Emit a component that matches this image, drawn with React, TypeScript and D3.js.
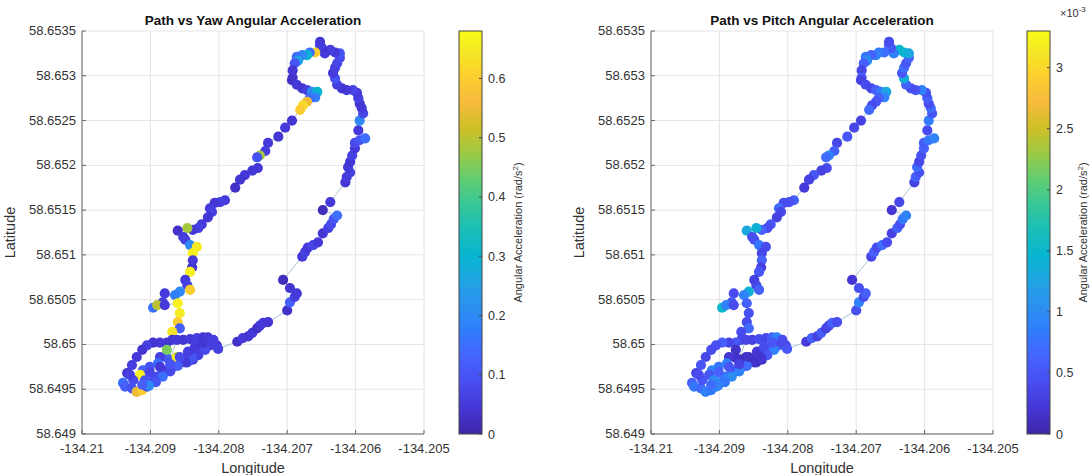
import React from 'react';
import * as d3 from 'd3';

// ---- tick values / labels ----
const lonTicks = [-134.21, -134.209, -134.208, -134.207, -134.206, -134.205];
const lonTickLabels = ['-134.21', '-134.209', '-134.208', '-134.207', '-134.206', '-134.205'];
const latTicks = [58.649, 58.6495, 58.65, 58.6505, 58.651, 58.6515, 58.652, 58.6525, 58.653, 58.6535];
const latTickLabels = ['58.649', '58.6495', '58.65', '58.6505', '58.651', '58.6515', '58.652', '58.6525', '58.653', '58.6535'];
const yawTicks = [0, 0.1, 0.2, 0.3, 0.4, 0.5, 0.6];
const yawTickLabels = ['0', '0.1', '0.2', '0.3', '0.4', '0.5', '0.6'];
const pitchTicks = [0, 0.5, 1, 1.5, 2, 2.5, 3]; // x10^-3
const pitchTickLabels = ['0', '0.5', '1', '1.5', '2', '2.5', '3'];
const yawMax = 0.68;
const pitchMax = 3.3; // x10^-3

// ---- path data ----
const lon = [
  -134.20803, -134.20801, -134.20773, -134.20765, -134.20757, -134.20751, -134.20744, -134.2074, -134.20735, -134.20728,
  -134.207, -134.20696, -134.20689, -134.20686, -134.20696, -134.20706, -134.20678, -134.20674, -134.2067, -134.20662,
  -134.20655, -134.20648, -134.2064, -134.20636, -134.20632, -134.20627, -134.20648, -134.20637, -134.20615, -134.20613,
  -134.20608, -134.20611, -134.20608, -134.20605, -134.20601, -134.20601, -134.20594, -134.20586, -134.20596, -134.20594,
  -134.20589, -134.20591, -134.20594, -134.20596, -134.20598, -134.20604, -134.20613, -134.2062, -134.20627, -134.2063,
  -134.20633, -134.2063, -134.20627, -134.20623, -134.20623, -134.2063, -134.20637, -134.20645, -134.20649, -134.20652,
  -134.20652, -134.20659, -134.20667, -134.20671, -134.20678, -134.20686, -134.20684, -134.20689, -134.20692, -134.20692,
  -134.20693, -134.20686, -134.20678, -134.20671, -134.20664, -134.20656, -134.20659, -134.20667, -134.20671, -134.20677,
  -134.20681, -134.20693, -134.20703, -134.20713, -134.20728, -134.20732, -134.2074, -134.20744, -134.20743, -134.20751,
  -134.20762, -134.20769, -134.20776, -134.20791, -134.20798, -134.20806, -134.20813, -134.2081, -134.20816, -134.20825,
  -134.2083, -134.20838, -134.20846, -134.2086, -134.20852, -134.20849, -134.20842, -134.20832, -134.20838, -134.20838,
  -134.20839, -134.20842, -134.20849, -134.20846, -134.20842, -134.20857, -134.20864, -134.20879, -134.20882, -134.20896,
  -134.2089, -134.20879, -134.2086, -134.20857, -134.2086, -134.20857, -134.20868, -134.20868, -134.20876, -134.20886,
  -134.20896, -134.20905, -134.20912, -134.2092, -134.20927, -134.20934, -134.2094, -134.20937, -134.20927, -134.2092,
  -134.20912, -134.20905, -134.20898, -134.2089, -134.20882, -134.20874, -134.20867, -134.20857, -134.20849, -134.20842,
  -134.20832, -134.20825, -134.20817, -134.20828, -134.20838, -134.20846, -134.20861, -134.20868, -134.20876, -134.20876,
  -134.20886, -134.20889, -134.20901, -134.20911, -134.20915, -134.20908, -134.20893, -134.20879, -134.20861, -134.20852,
  -134.20842, -134.20832, -134.20823, -134.20816, -134.20808, -134.20813, -134.2082, -134.2083, -134.20839, -134.20849,
  -134.2086, -134.20871, -134.20882, -134.20892, -134.20902, -134.20912, -134.20925, -134.2093, -134.20901, -134.20886,
  -134.20871, -134.20857, -134.20845, -134.20835, -134.20823, -134.2081,
];
const lat = [
  58.64999, 58.64995, 58.65003, 58.65007, 58.65009, 58.65013, 58.65018, 58.65021, 58.65024, 58.65025,
  58.65038, 58.65047, 58.65053, 58.65057, 58.65063, 58.65072, 58.65098, 58.65103, 58.65108, 58.65111,
  58.65114, 58.65124, 58.6513, 58.65134, 58.6514, 58.65144, 58.6515, 58.65159, 58.65181, 58.65187,
  58.65192, 58.65198, 58.65204, 58.65211, 58.65219, 58.65225, 58.65228, 58.6523, 58.65239, 58.6525,
  58.65258, 58.65264, 58.65269, 58.65275, 58.65281, 58.65284, 58.65284, 58.65286, 58.6529, 58.65297,
  58.65303, 58.65309, 58.65314, 58.6532, 58.65325, 58.65326, 58.65329, 58.65325, 58.65331, 58.65334,
  58.65338, 58.65326, 58.65326, 58.65323, 58.65323, 58.65321, 58.65317, 58.65314, 58.65306, 58.65298,
  58.65295, 58.6529, 58.65286, 58.65284, 58.65282, 58.65282, 58.65276, 58.65275, 58.65271, 58.65267,
  58.65262, 58.6525, 58.65242, 58.65232, 58.65225, 58.65216, 58.65211, 58.65209, 58.65197, 58.65194,
  58.65189, 58.65184, 58.65175, 58.65161, 58.65159, 58.65158, 58.65152, 58.65148, 58.65142, 58.65134,
  58.6513, 58.65128, 58.6513, 58.65127, 58.6512, 58.65117, 58.65111, 58.65109, 58.65102, 58.65094,
  58.65086, 58.65081, 58.65072, 58.65066, 58.65061, 58.65059, 58.65055, 58.65057, 58.65047, 58.65041,
  58.65044, 58.65044, 58.65046, 58.65035, 58.65025, 58.65018, 58.65014, 58.65005, 58.65002, 58.65002,
  58.65002, 58.64999, 58.64994, 58.64986, 58.64977, 58.64968, 58.64957, 58.64953, 58.64951, 58.64947,
  58.64949, 58.64953, 58.64958, 58.64964, 58.64968, 58.64971, 58.64975, 58.6498, 58.64985, 58.64988,
  58.64992, 58.64996, 58.64999, 58.64994, 58.64983, 58.6498, 58.64986, 58.64983, 58.64985, 58.64994,
  58.64986, 58.64979, 58.64975, 58.64971, 58.64966, 58.6496, 58.64963, 58.64969, 58.65005, 58.65005,
  58.65006, 58.65007, 58.65008, 58.65008, 58.65005, 58.64999, 58.64994, 58.64988, 58.64985, 58.6498,
  58.64976, 58.6497, 58.64964, 58.64958, 58.64954, 58.64955, 58.6496, 58.64966, 58.64969, 58.64975,
  58.64978, 58.64986, 58.64992, 58.64997, 58.65002, 58.65002,
];
// yaw angular acceleration (rad/s^2)
const yawAcc = [
  0.04, 0.06, 0.03, 0.05, 0.04, 0.05, 0.03, 0.04, 0.05, 0.04,
  0.03, 0.12, 0.06, 0.05, 0.04, 0.02, 0.05, 0.06, 0.05, 0.07,
  0.05, 0.04, 0.06, 0.08, 0.1, 0.15, 0.02, 0.05, 0.04, 0.05,
  0.06, 0.05, 0.04, 0.06, 0.05, 0.08, 0.1, 0.15, 0.05, 0.2,
  0.07, 0.05, 0.04, 0.06, 0.05, 0.07, 0.05, 0.04, 0.06, 0.1,
  0.05, 0.06, 0.07, 0.08, 0.1, 0.05, 0.06, 0.05, 0.04, 0.06,
  0.05, 0.6, 0.15, 0.3, 0.2, 0.15, 0.25, 0.1, 0.04, 0.05,
  0.03, 0.05, 0.04, 0.06, 0.2, 0.3, 0.18, 0.15, 0.55, 0.62,
  0.6, 0.04, 0.05, 0.04, 0.05, 0.06, 0.48, 0.1, 0.05, 0.04,
  0.05, 0.04, 0.03, 0.05, 0.06, 0.04, 0.05, 0.06, 0.04, 0.05,
  0.06, 0.05, 0.48, 0.03, 0.05, 0.06, 0.2, 0.65, 0.66, 0.05,
  0.04, 0.66, 0.05, 0.06, 0.6, 0.2, 0.18, 0.05, 0.06, 0.15,
  0.5, 0.05, 0.66, 0.65, 0.6, 0.12, 0.64, 0.05, 0.04, 0.05,
  0.04, 0.06, 0.04, 0.05, 0.06, 0.04, 0.15, 0.12, 0.1, 0.55,
  0.6, 0.1, 0.08, 0.12, 0.06, 0.1, 0.08, 0.06, 0.05, 0.06,
  0.04, 0.05, 0.06, 0.1, 0.05, 0.08, 0.5, 0.65, 0.12, 0.45,
  0.06, 0.15, 0.1, 0.12, 0.66, 0.1, 0.08, 0.05, 0.05, 0.04,
  0.05, 0.06, 0.04, 0.05, 0.06, 0.05, 0.08, 0.06, 0.1, 0.05,
  0.12, 0.08, 0.15, 0.1, 0.2, 0.12, 0.08, 0.06, 0.07, 0.05,
  0.1, 0.08, 0.06, 0.05, 0.04, 0.06,
];
// pitch angular acceleration (x10^-3 rad/s^2)
const pitchAcc = [
  0.3, 0.5, 0.25, 0.6, 0.3, 0.55, 0.3, 0.35, 0.6, 0.4,
  0.45, 0.9, 0.4, 0.6, 0.45, 0.2, 0.35, 0.6, 0.4, 0.7,
  0.4, 0.3, 0.6, 0.45, 0.8, 0.9, 0.2, 0.35, 0.3, 0.6,
  0.45, 0.7, 0.35, 0.45, 0.6, 0.55, 0.8, 0.9, 0.4, 0.85,
  0.5, 0.7, 0.4, 0.6, 0.45, 0.9, 0.5, 0.4, 0.6, 1.4,
  0.5, 0.7, 0.5, 0.6, 1.3, 1.4, 1.5, 0.9, 0.5, 0.6,
  0.4, 0.7, 0.8, 0.9, 0.6, 0.8, 1.0, 0.6, 0.35, 0.5,
  0.3, 0.4, 0.35, 0.6, 0.8, 1.3, 0.9, 0.6, 0.5, 0.4,
  0.7, 0.3, 0.35, 0.5, 0.35, 0.6, 0.9, 0.7, 0.4, 0.3,
  0.5, 0.3, 0.25, 0.6, 0.45, 0.4, 0.7, 0.35, 0.3, 0.5,
  0.4, 0.6, 1.4, 1.3, 0.4, 0.45, 0.8, 0.4, 0.35, 0.6,
  0.3, 0.5, 0.3, 0.35, 0.6, 1.4, 0.9, 0.4, 0.5, 1.5,
  0.9, 0.4, 0.6, 0.45, 0.4, 0.7, 0.4, 0.35, 0.5, 0.35,
  0.6, 0.45, 0.4, 0.35, 0.5, 0.35, 0.6, 0.8, 0.7, 0.9,
  0.8, 0.9, 1.0, 0.6, 0.8, 0.6, 0.5, 0.4, 0.35, 0.4,
  0.35, 0.7, 0.4, 0.5, 0.15, 0.12, 0.15, 0.12, 0.15, 0.15,
  0.2, 0.9, 0.8, 0.9, 0.5, 1.0, 0.9, 0.4, 0.35, 0.3,
  0.4, 0.35, 0.6, 0.9, 0.4, 0.6, 0.9, 0.5, 0.2, 0.15,
  0.7, 0.9, 1.0, 0.8, 0.9, 0.7, 0.5, 0.4, 0.6, 0.5,
  0.3, 0.15, 0.2, 0.4, 0.5, 0.4,
];

// MATLAB parula colormap stops
const parulaOffsets = [0, 4 / 63, 8 / 63, 12 / 63, 16 / 63, 20 / 63, 24 / 63, 28 / 63, 32 / 63, 36 / 63, 40 / 63, 44 / 63, 48 / 63, 52 / 63, 56 / 63, 60 / 63, 1];
const parulaColors = ['#3e26a8', '#4537d5', '#484df0', '#4563fd', '#327cfc', '#2b91ef', '#20a5e3', '#08b5d0', '#19bfb6', '#37c897', '#64cd6f', '#9dc943', '#d1bf27', '#f8ba3d', '#fccf30', '#f5e924', '#f9fb15'];
const parula = d3.scaleLinear<string>().domain(parulaOffsets).range(parulaColors).interpolate(d3.interpolateRgb).clamp(true);

const FONT = '"Liberation Sans", Arial, Helvetica, sans-serif';
const TXT = '#333';

type PanelProps = {
  x0: number; x1: number; cb0: number; cb1: number; cbLabelX: number;
  title: string; values: number[]; cmax: number; cTicks: number[]; cTickLabels: string[];
  exponent?: boolean; id: string;
};

function Panel(p: PanelProps) {
  const yTop = 31, yBot = 434;
  const xs = d3.scaleLinear().domain([-134.21, -134.205]).range([p.x0, p.x1]);
  const ys = d3.scaleLinear().domain([58.649, 58.6535]).range([yBot, yTop]);
  const cs = d3.scaleLinear().domain([0, p.cmax]).range([yBot, yTop]);
  const color = (v: number) => parula(v / p.cmax);
  const pts = lon.map((l, i) => ({ x: xs(l), y: ys(lat[i]), v: p.values[i] }));
  const line = d3.line<{ x: number; y: number }>().x(d => d.x).y(d => d.y);
  const cx = (p.x0 + p.x1) / 2;
  return (
    <g>
      <defs>
        <linearGradient id={p.id} x1="0" y1="1" x2="0" y2="0">
          {parulaOffsets.map((o, i) => (
            <stop key={i} offset={o} stopColor={parulaColors[i]} />
          ))}
        </linearGradient>
      </defs>
      {/* grid */}
      {lonTicks.map((t, i) => (
        <line key={'gx' + i} x1={xs(t)} x2={xs(t)} y1={yTop} y2={yBot} stroke="#e4e4e4" strokeWidth={1} />
      ))}
      {latTicks.map((t, i) => (
        <line key={'gy' + i} x1={p.x0} x2={p.x1} y1={ys(t)} y2={ys(t)} stroke="#e4e4e4" strokeWidth={1} />
      ))}
      {/* axes lines */}
      <line x1={p.x0} x2={p.x1} y1={yBot} y2={yBot} stroke="#666" strokeWidth={1} />
      <line x1={p.x0} x2={p.x0} y1={yTop} y2={yBot} stroke="#666" strokeWidth={1} />
      {lonTicks.map((t, i) => (
        <g key={'tx' + i}>
          <line x1={xs(t)} x2={xs(t)} y1={yBot} y2={yBot - 4} stroke="#666" />
          <text x={xs(t)} y={yBot + 19} textAnchor="middle" fontSize={13} fill={TXT} fontFamily={FONT}>{lonTickLabels[i]}</text>
        </g>
      ))}
      {latTicks.map((t, i) => (
        <g key={'ty' + i}>
          <line x1={p.x0} x2={p.x0 + 4} y1={ys(t)} y2={ys(t)} stroke="#666" />
          <text x={p.x0 - 6} y={ys(t) + 4} textAnchor="end" fontSize={13} fill={TXT} fontFamily={FONT}>{latTickLabels[i]}</text>
        </g>
      ))}
      {/* path line */}
      <path d={line(pts) || ''} fill="none" stroke="#a9c3d3" strokeWidth={1} />
      {/* scatter */}
      {pts.map((d, i) => (
        <circle key={'p' + i} cx={d.x} cy={d.y} r={5.1} fill={color(d.v)} />
      ))}
      {/* titles & labels */}
      <text x={cx} y={25} textAnchor="middle" fontSize={13.5} fontWeight="bold" fill="#111" fontFamily={FONT}>{p.title}</text>
      <text x={cx} y={473} textAnchor="middle" fontSize={14.5} fill={TXT} fontFamily={FONT}>Longitude</text>
      <text transform={`translate(${p.x0 - 67},${(yTop + yBot) / 2}) rotate(-90)`} textAnchor="middle" fontSize={14.5} fill={TXT} fontFamily={FONT}>Latitude</text>
      {/* colorbar */}
      <rect x={p.cb0} y={yTop} width={p.cb1 - p.cb0} height={yBot - yTop} fill={`url(#${p.id})`} stroke="#444" strokeWidth={1} />
      {p.cTicks.map((t, i) => (
        <g key={'ct' + i}>
          <line x1={p.cb1 - 3} x2={p.cb1} y1={cs(t)} y2={cs(t)} stroke="#444" />
          <text x={p.cb1 + 6} y={cs(t) + 4.5} fontSize={12.5} fill={TXT} fontFamily={FONT}>{p.cTickLabels[i]}</text>
        </g>
      ))}
      <text transform={`translate(${p.cbLabelX},${(yTop + yBot) / 2}) rotate(-90)`} textAnchor="middle" fontSize={11} fill={TXT} fontFamily={FONT}>
        Angular Acceleration (rad/s<tspan fontSize={8} dy={-4}>2</tspan><tspan dy={4}>)</tspan>
      </text>
      {p.exponent && (
        <text x={p.cb1 + 10} y={17} fontSize={11} fill={TXT} fontFamily={FONT}>
          ×10<tspan fontSize={8} dy={-5}>-3</tspan>
        </text>
      )}
    </g>
  );
}

export default function App() {
  return (
    <svg width={1092} height={475} style={{ position: 'absolute', left: 0, top: 0, background: '#fff' }}>
      <rect x={0} y={0} width={1092} height={475} fill="#fff" />
      <Panel id="cbYaw" x0={82} x1={424} cb0={459} cb1={482} cbLabelX={522}
        title="Path vs Yaw Angular Acceleration" values={yawAcc} cmax={yawMax}
        cTicks={yawTicks} cTickLabels={yawTickLabels} />
      <Panel id="cbPitch" x0={651} x1={993} cb0={1027} cb1={1050} cbLabelX={1087}
        title="Path vs Pitch Angular Acceleration" values={pitchAcc} cmax={pitchMax}
        cTicks={pitchTicks} cTickLabels={pitchTickLabels} exponent />
    </svg>
  );
}
